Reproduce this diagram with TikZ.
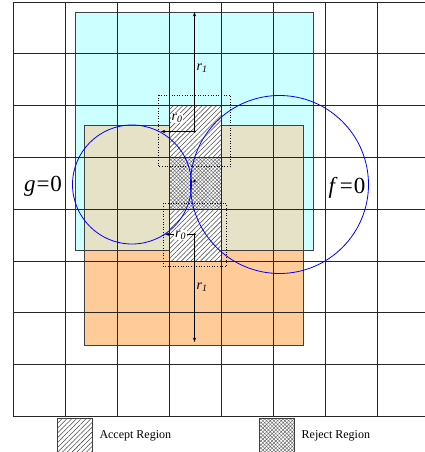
\documentclass[tikz,border=0pt]{standalone}
\usepackage{fontspec}
\setmainfont{Liberation Serif}
\usetikzlibrary{positioning,arrows.meta,patterns.meta}

\definecolor{cyanfill}{HTML}{CCFFFF}
\definecolor{orangefill}{HTML}{FFCC99}
\definecolor{tanfill}{HTML}{E6E2C8}

\begin{document}
\begin{tikzpicture}[
      x=1pt, y=-1pt,
      gridline/.style = {draw=black!85, line width=0.75pt},
      frame/.style    = {draw=black!75, line width=0.7pt},
      accept/.style   = {preaction={fill=white},
                         pattern={Lines[angle=45, distance=3.4pt, line width=0.55pt]},
                         pattern color=black!70},
      reject/.style   = {preaction={fill=white},
                         pattern={Hatch[angle=45, distance=2.6pt, line width=0.45pt]},
                         pattern color=black!60},
      probe/.style    = {draw, dotted, line width=0.6pt},
      curve/.style    = {circle, draw=blue, line width=0.8pt, inner sep=0pt},
      arrow/.style    = {-{Stealth[length=4.5pt, width=3.2pt]}, line width=0.6pt},
      dot/.style      = {circle, fill, inner sep=0pt, minimum size=2.6pt},
      radius/.style   = {font=\fontsize{14}{16}\selectfont\itshape, inner sep=1pt},
      eqn/.style      = {font=\fontsize{23}{27}\selectfont},
      legbox/.style   = {draw=black!75, line width=0.6pt, minimum width=35pt,
                         minimum height=36pt, inner sep=0pt},
      legtext/.style  = {font=\fontsize{12}{14}\selectfont, inner sep=0pt}
    ]
    \useasboundingbox (0,0) rectangle (425,452);

    % coloured regions
    \fill[cyanfill]   (75,12) rectangle (313,250);
    \fill[orangefill] (84.5,125.7) rectangle (303.5,345);
    \fill[tanfill]    (84.5,125.7) rectangle (303.5,250);
    \draw[frame] (75,12) rectangle (313,250);
    \draw[frame] (84.5,125.7) rectangle (303.5,345);

    % cells of column 3
    \path[accept] (169,105.6) rectangle (221,157.4);
    \path[reject] (169,157.4) rectangle (221,209.2);
    \path[accept] (169,209.2) rectangle (221,261);

    % grid
    \foreach \i in {0,...,8} {
      \draw[gridline] (13+52*\i,2) -- (13+52*\i,416.4);
      \draw[gridline] (13,2+51.8*\i) -- (429,2+51.8*\i);
    }

    % dotted windows
    \draw[probe] (158.3,95) rectangle (230,166.7);
    \draw[probe] (163.3,203.3) rectangle (226,266.7);

    % zero sets
    \node[curve, minimum size=119pt] (gcirc) at (132,184.5) {};
    \node[curve, minimum size=178pt] (fcirc) at (279.5,184.5) {};
    \node[eqn] (glabel) at (43,186) {\textit{g}\kern1pt=\kern1pt0};
    \node[eqn] (flabel) at (347,188) {\textit{f}\kern2pt=\kern1pt0};

    % centres and radii
    \node[dot] (cup)  at (194.5,131.5) {};
    \node[dot] (cmid) at (194.5,181)   {};
    \node[dot] (clow) at (194.5,234.3) {};
    \coordinate (topend)   at (194.5,12);
    \coordinate (botend)   at (194.5,342);
    \coordinate (upleft)   at (160.7,131.5);
    \coordinate (lowleft)  at (165,234.3);

    \draw[arrow] (cup.center)  -- (topend);
    \draw[arrow] (clow.center) -- (botend);
    \draw[arrow] (cup.center)  -- (upleft);
    \draw[arrow] (clow.center) -- (lowleft);

    \node[radius] (rtop) at (202,68)    {r\textsubscript{1}};
    \node[radius, fill=white] (rup)  at (177,118)   {r\textsubscript{0}};
    \node[radius, fill=white] (rlow) at (180.5,235) {r\textsubscript{0}};
    \node[radius] (rbot) at (202,287)   {r\textsubscript{1}};

    % legend
    \node[legbox, accept] (acckey) at (75,436) {};
    \node[legtext, right=6.5pt of acckey] (acctext) {Accept Region};
    \node[legbox, reject] (rejkey) at (276.7,436) {};
    \node[legtext, right=7pt of rejkey] (rejtext) {Reject Region};
  \end{tikzpicture}
\end{document}
